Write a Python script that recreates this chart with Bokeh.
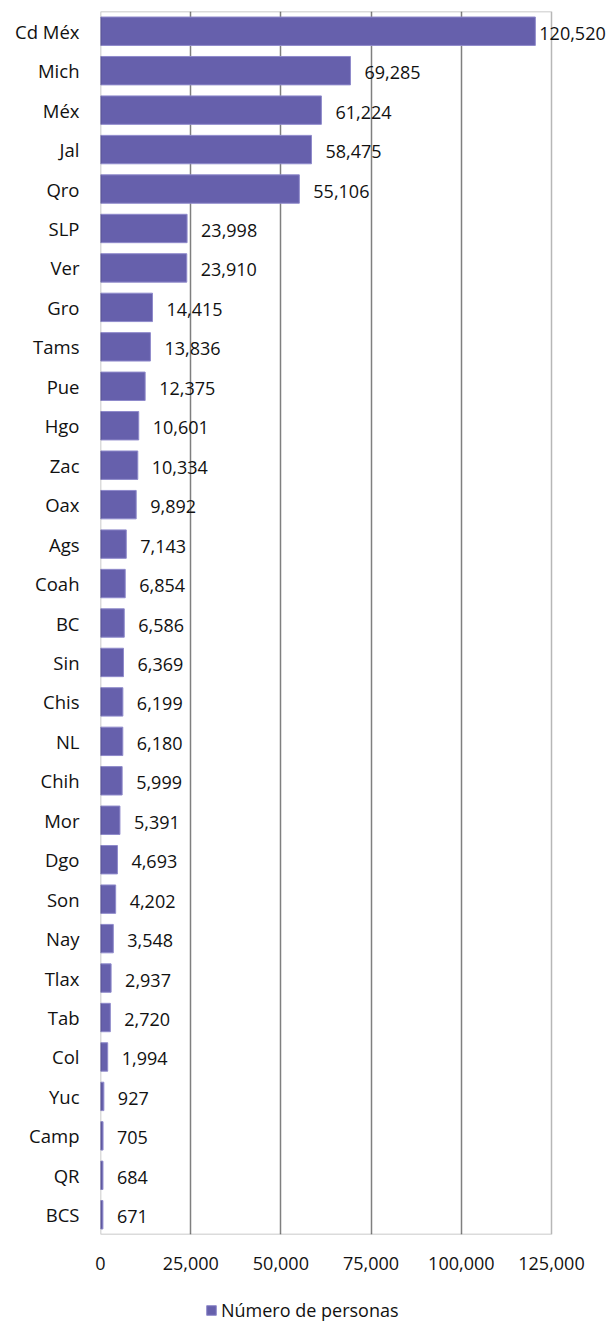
from bokeh.plotting import figure
from bokeh.layouts import column
from bokeh.models import (ColumnDataSource, Legend, LegendItem, NumeralTickFormatter,
                          FixedTicker, LabelSet, BoxAnnotation, Range1d)
from bokeh.core.properties import value
from bokeh.embed import file_html
from bokeh.resources import INLINE

states = ["Cd Méx", "Mich", "Méx", "Jal", "Qro", "SLP", "Ver", "Gro", "Tams", "Pue",
          "Hgo", "Zac", "Oax", "Ags", "Coah", "BC", "Sin", "Chis", "NL", "Chih",
          "Mor", "Dgo", "Son", "Nay", "Tlax", "Tab", "Col", "Yuc", "Camp", "QR", "BCS"]
personas = [120520, 69285, 61224, 58475, 55106, 23998, 23910, 14415, 13836, 12375,
            10601, 10334, 9892, 7143, 6854, 6586, 6369, 6199, 6180, 5999,
            5391, 4693, 4202, 3548, 2937, 2720, 1994, 927, 705, 684, 671]
x_ticks = [0, 25000, 50000, 75000, 100000, 125000]
series_name = "Número de personas"

FONT = "Open Sans"
X_MAX = 125000
BAR_FILL = "#6660AC"
BAR_LINE = "#8F8ACB"

W = 607
H1, H2 = 1280, 42
LEFT, TOP, BOTTOM = 100, 11, 46
PLOT_PX = 451                     # pixel width of the 0..125,000 box
FRAME_PX = W - LEFT               # frame extends right so labels are not clipped
x_end = X_MAX * FRAME_PX / PLOT_PX

labels = [f"{v:,}" for v in personas]
offsets = [4 if v > 0.9 * X_MAX else 14 for v in personas]
src = ColumnDataSource(data=dict(state=states, val=personas, lab=labels, off=offsets))

p = figure(y_range=list(reversed(states)), x_range=(0, x_end),
           width=W, height=H1,
           min_border_left=LEFT, min_border_right=0, min_border_top=TOP,
           min_border_bottom=BOTTOM,
           output_backend="svg", toolbar_location=None)

p.hbar(y="state", right="val", left=0, height=0.72, source=src,
       fill_color=BAR_FILL, line_color=BAR_LINE, line_width=1)

lbl = LabelSet(x="val", y="state", text="lab", source=src, x_offset="off", y_offset=-2,
               text_baseline="middle", text_align="left", text_font=value(FONT),
               text_font_size=value("18px"), text_color=value("#111111"))
p.add_layout(lbl)

box = BoxAnnotation(left=0, right=X_MAX, fill_alpha=0, line_color="#111111",
                    line_width=1.5, level="overlay")
p.add_layout(box)

p.xaxis.ticker = FixedTicker(ticks=x_ticks)
p.xaxis.formatter = NumeralTickFormatter(format="0,0")
p.xaxis.major_label_text_font = FONT
p.xaxis.major_label_text_font_size = "18px"
p.xaxis.major_label_text_color = "#111111"
p.xaxis.major_label_standoff = 16
p.xaxis.axis_line_color = None
p.xaxis.major_tick_line_color = None
p.xaxis.minor_tick_line_color = None

p.yaxis.major_label_text_font = FONT
p.yaxis.major_label_text_font_size = "18.5px"
p.yaxis.major_label_text_color = "#111111"
p.yaxis.major_label_standoff = 15
p.yaxis.axis_line_color = None
p.yaxis.major_tick_line_color = None

p.xgrid.ticker = FixedTicker(ticks=x_ticks[1:-1])
p.xgrid.grid_line_color = "#7f7f7f"
p.xgrid.grid_line_width = 1.5
p.ygrid.grid_line_color = None

p.outline_line_color = None
p.background_fill_color = "white"
p.border_fill_color = "white"

# legend strip below the chart (proxy renderer with no visible mark);
# the column layout aligns its frame with the main frame (starting at x=LEFT)
p2 = figure(width=W, height=H2, x_range=Range1d(0, 1), y_range=Range1d(0, 1),
            min_border=0, output_backend="svg", toolbar_location=None)
p2.axis.visible = False
p2.grid.grid_line_color = None
p2.outline_line_color = None
nan = float("nan")
r2 = p2.hbar(y=[nan], right=[nan], left=[nan], height=0.72,
             fill_color=BAR_FILL, line_color=BAR_LINE, line_width=1)
legend = Legend(items=[LegendItem(label=series_name, renderers=[r2])],
                orientation="horizontal", location=(105, 0),
                label_text_font=FONT, label_text_font_size="18px",
                label_text_color="#111111", glyph_width=12, glyph_height=12,
                label_standoff=4, border_line_color=None, background_fill_alpha=0,
                margin=0, padding=2)
p2.add_layout(legend)

layout = column(p, p2, spacing=0)
open("out.html", "w").write(file_html(layout, INLINE))
